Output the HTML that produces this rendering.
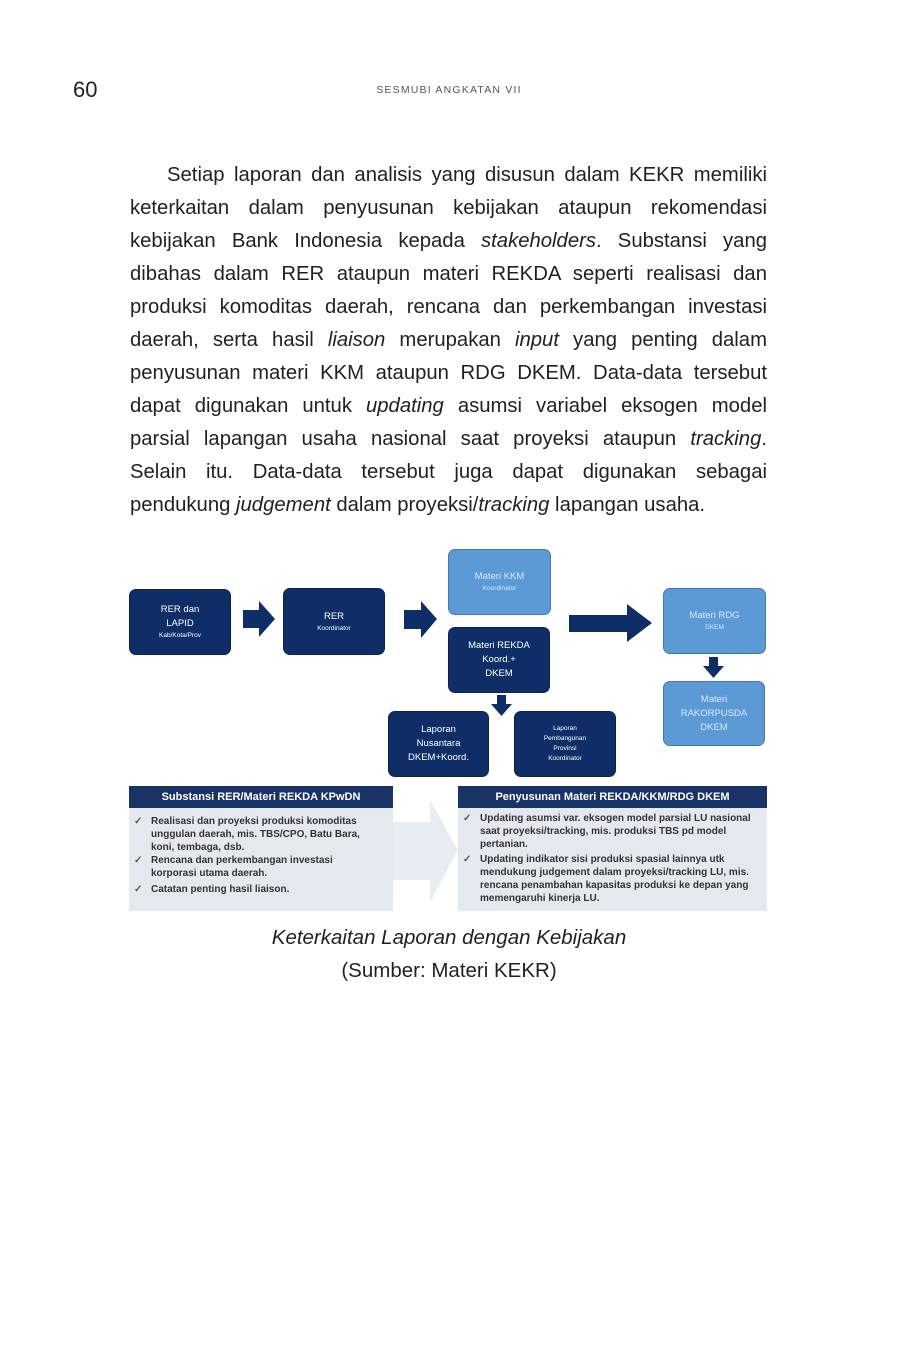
<!DOCTYPE html>
<html><head><meta charset="utf-8"><style>
body{margin:0;background:#fff;width:916px;height:1359px;position:relative;overflow:hidden;font-family:"Liberation Sans",sans-serif;color:#231f20}
.a{position:absolute}
.ln{position:absolute;left:130px;width:637px;font-size:20.3px;text-align:justify;text-align-last:justify;white-space:nowrap;line-height:24px}
.ln.last{text-align-last:left}
.bx{position:absolute;border-radius:7px;color:#fff;display:flex;flex-direction:column;align-items:center;justify-content:center;text-align:center;font-size:9.5px;line-height:14px;box-sizing:border-box}
.dk{background:#0f2e67;border:1.5px solid #0a2250}
.lt{background:#5c9ad6;border:1.5px solid #3f78b4;color:#dbe9f7}
.sm{font-size:6.5px;line-height:10px}
.hd{position:absolute;background:#1a3366;color:#fff;font-weight:bold;font-size:11px;height:22px;line-height:22px;text-align:center;font-family:"Liberation Sans Narrow","Liberation Sans",sans-serif}
.bd{position:absolute;background:#e4e9f0;font-size:10px;font-weight:bold;line-height:13px;color:#333;box-sizing:border-box;font-family:"Liberation Sans Narrow","Liberation Sans",sans-serif}
.bd div{padding-left:22px;position:relative}
.bd div:before{content:"✓";position:absolute;left:5px;top:0;color:#555}
</style></head><body>
<div class="a" style="left:73px;top:77px;font-size:22px">60</div>
<div class="a" style="left:349px;width:200px;text-align:center;top:84px;font-size:10.5px;letter-spacing:1.2px;color:#555">SESMUBI ANGKATAN VII</div>

<div class="ln" style="top:163px;left:167px;width:600px">Setiap laporan dan analisis yang disusun dalam KEKR memiliki</div>
<div class="ln" style="top:196px">keterkaitan dalam penyusunan kebijakan ataupun rekomendasi</div>
<div class="ln" style="top:229px">kebijakan Bank Indonesia kepada <i>stakeholders</i>. Substansi yang</div>
<div class="ln" style="top:262px">dibahas dalam RER ataupun materi REKDA seperti realisasi dan</div>
<div class="ln" style="top:295px">produksi komoditas daerah, rencana dan perkembangan investasi</div>
<div class="ln" style="top:328px">daerah, serta hasil <i>liaison</i> merupakan <i>input</i> yang penting dalam</div>
<div class="ln" style="top:361px">penyusunan materi KKM ataupun RDG DKEM. Data-data tersebut</div>
<div class="ln" style="top:394px">dapat digunakan untuk <i>updating</i> asumsi variabel eksogen model</div>
<div class="ln" style="top:427px">parsial lapangan usaha nasional saat proyeksi ataupun <i>tracking</i>.</div>
<div class="ln" style="top:460px">Selain itu. Data-data tersebut juga dapat digunakan sebagai</div>
<div class="ln last" style="top:493px">pendukung <i>judgement</i> dalam proyeksi/<i>tracking</i> lapangan usaha.</div>

<div class="bx dk" style="left:129px;top:589px;width:102px;height:66px">RER dan<br>LAPID<span class="sm">Kab/Kota/Prov</span></div>
<div class="bx dk" style="left:283px;top:588px;width:102px;height:67px">RER<span class="sm">Koordinator</span></div>
<div class="bx lt" style="left:448px;top:549px;width:103px;height:66px">Materi KKM<span class="sm">Koordinator</span></div>
<div class="bx dk" style="left:448px;top:627px;width:102px;height:66px">Materi REKDA<br>Koord.+<br>DKEM</div>
<div class="bx lt" style="left:663px;top:588px;width:103px;height:66px">Materi RDG<span class="sm">DKEM</span></div>
<div class="bx lt" style="left:663px;top:681px;width:102px;height:65px">Materi<br>RAKORPUSDA<br>DKEM</div>
<div class="bx dk" style="left:388px;top:711px;width:101px;height:66px">Laporan<br>Nusantara<br>DKEM+Koord.</div>
<div class="bx dk sm" style="left:514px;top:711px;width:102px;height:66px">Laporan<br>Pembangunan<br>Provinsi<br>Koordinator</div>
<svg class="a" style="left:0;top:0" width="916" height="1359">
<g fill="#0f2e67">
<polygon points="243,610 259,610 259,601 275,619 259,637 259,628 243,628"/>
<polygon points="404,610 421,610 421,601 437,619 421,638 421,629 404,629"/>
<polygon points="569,615 627,615 627,604 652,623 627,642 627,632 569,632"/>
<polygon points="709,657 718,657 718,666 724,666 713.5,678 703,666 709,666"/>
<polygon points="497,695 506,695 506,704 512,704 501.5,716 491,704 497,704"/>
<polygon points="393,822 430,822 430,800 458,850 430,902 430,880 393,880" fill="#e8edf4"/>
</g>
</svg>
<div class="hd" style="left:129px;top:786px;width:264px">Substansi RER/Materi REKDA KPwDN</div>
<div class="bd" style="left:129px;top:808px;width:264px;height:103px;padding-top:7px;padding-right:20px">
<div>Realisasi dan proyeksi produksi komoditas unggulan daerah, mis. TBS/CPO, Batu Bara, koni, tembaga, dsb.</div>
<div>Rencana dan perkembangan investasi korporasi utama daerah.</div>
<div style="margin-top:3px">Catatan penting hasil liaison.</div>
</div>
<div class="hd" style="left:458px;top:786px;width:309px">Penyusunan Materi REKDA/KKM/RDG DKEM</div>
<div class="bd" style="left:458px;top:808px;width:309px;height:103px;padding-top:4px;padding-right:10px">
<div>Updating asumsi var. eksogen model parsial LU nasional saat proyeksi/tracking, mis. produksi TBS pd model pertanian.</div>
<div style="margin-top:2px">Updating indikator sisi produksi spasial lainnya utk mendukung judgement dalam proyeksi/tracking LU, mis. rencana penambahan kapasitas produksi ke depan yang memengaruhi kinerja LU.</div>
</div>

<div class="a" style="left:149px;width:600px;text-align:center;top:926px;font-size:20.5px;font-style:italic">Keterkaitan Laporan dengan Kebijakan</div>
<div class="a" style="left:149px;width:600px;text-align:center;top:959px;font-size:20.5px">(Sumber: Materi KEKR)</div>
</body></html>
